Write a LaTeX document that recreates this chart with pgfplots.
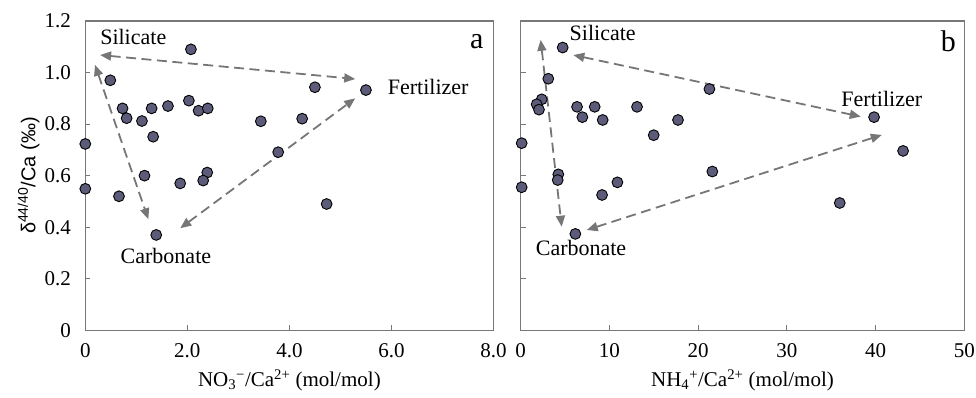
\documentclass[border=0pt]{standalone}
\usepackage{fontspec}
\setmainfont{Liberation Serif}
\setsansfont{Liberation Sans}
\usepackage{pgfplots}
\pgfplotsset{compat=1.18}
\usetikzlibrary{arrows.meta}
\definecolor{framec}{RGB}{120,120,120}
\definecolor{markc}{RGB}{92,92,122}
\definecolor{arrc}{RGB}{118,118,118}
\pgfplotsset{
  every axis/.append style={font=\fontsize{21}{25}\selectfont},
  myaxis/.style={
    scale only axis, height=309.3pt, clip=false,
    ymin=0, ymax=1.2, ytick={0,0.2,0.4,0.6,0.8,1.0,1.2},
    axis line style={framec, line width=1.3pt},
    tick align=inside, xtick pos=bottom, ytick pos=left,
    major tick length=5pt,
    every tick/.style={framec, line width=1pt},
    /pgf/number format/assume math mode=true,
    xticklabel style={yshift=-10pt},
    yticklabel style={xshift=-11pt},
  },
  pts/.style={only marks, mark=*, mark size=5.4pt,
    mark options={fill=markc, draw=black, line width=0.9pt}},
  arr/.style={arrc, line width=1.8pt, dash pattern=on 10pt off 5.5pt,
    {Triangle[length=11pt,width=9pt]}-{Triangle[length=11pt,width=9pt]}, forget plot},
}
\begin{document}
\begin{tikzpicture}[x=1pt,y=1pt]
\useasboundingbox (0,0) rectangle (976,397);
\begin{axis}[myaxis, at={(85.3pt,66.7pt)}, anchor=south west, width=408.2pt,
  xmin=0, xmax=8, xtick={0,2,4,6,8}, xticklabels={0,2.0,4.0,6.0,8.0},
  yticklabels={0,0.2,0.4,0.6,0.8,1.0,1.2},
  xlabel={NO\textsubscript{3}\textsuperscript{−}/Ca\textsuperscript{2+} (mol/mol)},
  xlabel style={at={(axis description cs:0.5,-0.162)}, anchor=center},
  ylabel={\sffamily δ\textsuperscript{44/40}/Ca (‰)},
  ylabel style={at={(axis description cs:-0.139,0.5)}, anchor=center, font=\fontsize{20}{24}\selectfont},
]
\addplot[arr] coordinates {(0.29,1.068) (5.29,0.975)};
\addplot[arr] coordinates {(0.19,1.03) (1.235,0.431)};
\addplot[arr] coordinates {(1.86,0.396) (5.29,0.900)};
\addplot[pts] table {
x y
2.07 1.09
0.49 0.97
4.50 0.943
5.50 0.932
0.73 0.861
1.30 0.861
1.62 0.870
2.03 0.891
2.22 0.852
2.40 0.861
0.81 0.823
1.11 0.812
1.33 0.751
3.44 0.811
4.25 0.821
3.78 0.691
0 0.723
1.16 0.600
2.39 0.612
2.31 0.581
1.86 0.570
0 0.549
0.66 0.520
4.73 0.490
1.39 0.370
};
\node[font=\fontsize{22}{26}\selectfont] at (axis cs:0.94,1.139) {Silicate};
\node[font=\fontsize{22}{26}\selectfont, anchor=west] at (axis cs:5.86,0.944) {Fertilizer};
\node[font=\fontsize{22}{26}\selectfont] at (axis cs:1.58,0.288) {Carbonate};
\node[font=\fontsize{30}{34}\selectfont] at (rel axis cs:0.959,0.933) {a};
\end{axis}
\begin{axis}[myaxis, at={(520.7pt,66.7pt)}, anchor=south west, width=443.6pt,
  xmin=0, xmax=50, xtick={0,10,20,30,40,50},
  yticklabels={},
  xlabel={NH\textsubscript{4}\textsuperscript{+}/Ca\textsuperscript{2+} (mol/mol)},
  xlabel style={at={(axis description cs:0.5,-0.162)}, anchor=center},
]
\addplot[arr] coordinates {(5.93,1.068) (38.33,0.829)};
\addplot[arr] coordinates {(2.25,1.127) (4.62,0.402)};
\addplot[arr] coordinates {(7.44,0.389) (40.7,0.758)};
\addplot[pts] table {
x y
4.73 1.097
3.11 0.976
2.37 0.896
1.80 0.877
2.06 0.856
0.11 0.726
6.35 0.867
8.34 0.867
6.95 0.827
9.24 0.816
13.11 0.867
14.99 0.757
17.73 0.816
21.27 0.936
39.83 0.827
43.1 0.696
21.6 0.616
4.24 0.605
4.17 0.583
10.9 0.574
0.11 0.555
9.17 0.525
35.96 0.494
6.16 0.374
};
\node[font=\fontsize{22}{26}\selectfont] at (axis cs:9.24,1.152) {Silicate};
\node[font=\fontsize{22}{26}\selectfont] at (axis cs:40.7,0.897) {Fertilizer};
\node[font=\fontsize{22}{26}\selectfont] at (axis cs:6.8,0.318) {Carbonate};
\node[font=\fontsize{30}{34}\selectfont] at (rel axis cs:0.964,0.933) {b};
\end{axis}
\end{tikzpicture}
\end{document}
